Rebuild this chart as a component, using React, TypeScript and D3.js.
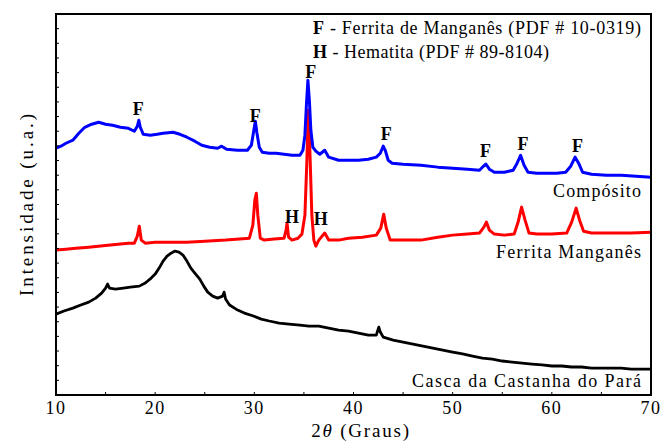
import React from 'react';
import * as d3 from 'd3';

// 2theta (deg) / intensity (a.u.)
const compositeData: [number, number][] = [
    [10.0, 1684], [10.5, 1698], [11.0, 1718], [11.7, 1739], [12.3, 1786], [12.9, 1827], [13.6, 1848],
    [14.3, 1861], [15.0, 1848], [15.7, 1841], [16.5, 1827], [17.3, 1820], [17.9, 1800], [18.2, 1834],
    [18.35, 1875], [18.5, 1827], [18.8, 1779], [19.5, 1773], [20.2, 1779], [20.8, 1786], [21.8, 1793],
    [22.5, 1779], [23.2, 1759], [24.0, 1732], [24.7, 1704], [25.5, 1691], [26.3, 1684], [26.7, 1698],
    [27.2, 1677], [28.3, 1670], [29.3, 1670], [29.7, 1704], [29.95, 1807], [30.1, 1868], [30.25, 1793],
    [30.5, 1691], [30.8, 1657], [31.5, 1650], [32.2, 1650], [33.0, 1643], [33.8, 1636], [34.6, 1636],
    [34.9, 1670], [35.1, 1773], [35.25, 1977], [35.4, 2148], [35.55, 2011], [35.7, 1807], [35.9, 1691],
    [36.2, 1664], [36.6, 1643], [37.1, 1670], [37.5, 1623], [38.5, 1602], [39.5, 1602], [40.5, 1602],
    [41.5, 1609], [42.3, 1623], [42.7, 1650], [43.0, 1698], [43.2, 1670], [43.5, 1602], [43.9, 1582],
    [45.0, 1575], [46.8, 1568], [48.5, 1555], [50.0, 1548], [51.5, 1541], [52.7, 1534], [53.1, 1561],
    [53.35, 1575], [53.7, 1541], [54.2, 1520], [55.2, 1520], [56.1, 1534], [56.5, 1582], [56.85, 1636],
    [57.2, 1568], [57.6, 1520], [58.5, 1514], [59.5, 1514], [60.5, 1514], [61.4, 1520], [61.9, 1561],
    [62.35, 1623], [62.7, 1582], [63.1, 1520], [64.0, 1507], [65.5, 1500], [67.0, 1500], [68.5, 1493],
    [70.0, 1486],
];

const ferriteData: [number, number][] = [
    [10.0, 989], [11.0, 995], [12.0, 1002], [13.3, 1009], [14.5, 1016], [15.5, 1023], [16.5, 1030],
    [17.3, 1036], [17.9, 1036], [18.2, 1084], [18.4, 1152], [18.6, 1057], [19.0, 1036], [20.0, 1043],
    [21.5, 1043], [23.2, 1043], [25.0, 1050], [27.1, 1057], [28.5, 1064], [29.5, 1070], [29.85, 1159],
    [30.05, 1330], [30.2, 1377], [30.35, 1227], [30.6, 1070], [31.0, 1057], [32.0, 1064], [33.0, 1070],
    [33.2, 1125], [33.3, 1173], [33.45, 1077], [33.8, 1057], [34.4, 1070], [34.8, 1098], [35.1, 1227],
    [35.3, 1602], [35.45, 1943], [35.6, 1670], [35.8, 1227], [36.0, 1057], [36.2, 1016], [36.5, 1057],
    [37.1, 1105], [37.5, 1057], [38.5, 1057], [39.5, 1070], [40.9, 1077], [42.3, 1091], [42.75, 1139],
    [43.05, 1234], [43.3, 1139], [43.7, 1057], [45.0, 1057], [46.8, 1057], [48.5, 1077], [50.0, 1091],
    [51.5, 1098], [52.7, 1105], [53.15, 1145], [53.4, 1180], [53.7, 1125], [54.2, 1098], [55.2, 1091],
    [56.2, 1098], [56.6, 1180], [56.95, 1282], [57.3, 1193], [57.7, 1105], [58.5, 1098], [60.0, 1098],
    [61.5, 1105], [62.0, 1180], [62.45, 1275], [62.8, 1193], [63.2, 1118], [64.0, 1105], [66.5, 1105],
    [68.0, 1105], [70.0, 1111],
];

const shellData: [number, number][] = [
    [10.0, 552], [10.8, 573], [11.7, 593], [12.5, 614], [13.3, 634], [14.0, 661], [14.6, 695],
    [15.0, 730], [15.2, 757], [15.4, 730], [16.0, 723], [16.8, 730], [17.5, 736], [18.4, 743],
    [19.0, 764], [19.6, 798], [20.0, 825], [20.4, 866], [20.8, 914], [21.2, 948], [21.6, 968],
    [22.0, 982], [22.4, 975], [22.8, 955], [23.2, 914], [23.6, 866], [24.0, 832], [24.5, 791],
    [24.9, 743], [25.3, 702], [25.8, 675], [26.3, 661], [26.8, 675], [26.95, 702], [27.1, 655],
    [27.5, 614], [28.2, 584], [29.0, 559], [29.9, 539], [30.7, 518], [31.5, 505], [32.5, 491],
    [33.5, 484], [34.6, 477], [35.5, 470], [36.5, 470], [37.5, 457], [38.5, 443], [39.5, 436],
    [40.5, 423], [41.5, 409], [42.3, 409], [42.55, 463], [42.7, 430], [43.0, 395], [44.0, 375],
    [45.0, 361], [46.0, 348], [47.0, 334], [48.0, 320], [49.0, 307], [50.0, 293], [51.0, 280],
    [52.0, 266], [53.0, 252], [54.0, 245], [55.0, 232], [56.0, 225], [57.0, 218], [58.0, 211],
    [59.0, 205], [60.0, 198], [61.0, 198], [62.0, 191], [63.0, 191], [64.0, 184], [65.0, 184],
    [66.0, 184], [67.0, 184], [68.0, 177], [69.0, 177], [70.0, 177],
];

const xTickValues = [10, 20, 30, 40, 50, 60, 70];
const xMinorTicks = [15, 25, 35, 45, 55, 65];

// phase markers: [label, 2theta, intensity at label baseline]
const peakLabels: [string, number, number][] = [
    ['F', 18.3, 1909], ['F', 30.1, 1862], ['F', 35.7, 2162], ['F', 43.3, 1739], ['F', 53.3, 1623],
    ['F', 57.1, 1671], ['F', 62.6, 1657], ['H', 33.8, 1173], ['H', 36.7, 1159],
];

const seriesLabels = ['Compósito', 'Ferrita Manganês', 'Casca da Castanha do Pará'];

const width = 660;
const height = 441;
const margin = { left: 56, right: 9, top: 14, bottom: 46 };
const serif = "'Liberation Serif', 'DejaVu Serif', serif";

export default function App() {
    const x = d3.scaleLinear([10, 70], [margin.left, width - margin.right]);
    const y = d3.scaleLinear([0, 2600], [height - margin.bottom, margin.top]);

    const line = d3
        .line<[number, number]>()
        .x((d) => x(d[0]))
        .y((d) => y(d[1]));

    const yTicks = d3.range(100, 2600, 100);
    const x0 = margin.left;
    const x1 = width - margin.right;
    const y0 = height - margin.bottom;
    const y1 = margin.top;

    return (
        <svg
            width={width}
            height={height}
            style={{ position: 'absolute', left: 0, top: 0, background: '#fff', fontFamily: serif }}
        >
            <path d={line(shellData) ?? ''} fill="none" stroke="#000" strokeWidth={2.8} strokeLinejoin="round" />
            <path d={line(ferriteData) ?? ''} fill="none" stroke="#ff0000" strokeWidth={3} strokeLinejoin="round" />
            <path d={line(compositeData) ?? ''} fill="none" stroke="#0000ff" strokeWidth={3} strokeLinejoin="round" />

            {/* ticks */}
            {yTicks.map((t) => (
                <line key={'y' + t} x1={x0} x2={x0 + 3} y1={y(t)} y2={y(t)} stroke="#000" strokeWidth={1} />
            ))}
            {[...xTickValues, ...xMinorTicks].map((t) => (
                <line key={'x' + t} x1={x(t)} x2={x(t)} y1={y0} y2={y0 - 3} stroke="#000" strokeWidth={1} />
            ))}
            <rect x={x0} y={y1} width={x1 - x0} height={y0 - y1} fill="none" stroke="#000" strokeWidth={2} />

            {xTickValues.map((t) => (
                <text key={'xl' + t} x={x(t)} y={y0 + 19} textAnchor="middle" fontSize={18} letterSpacing={1.5}>
                    {t}
                </text>
            ))}
            <text x={361} y={437} textAnchor="middle" fontSize={19} letterSpacing={1.8}>
                2<tspan fontStyle="italic">θ</tspan> (Graus)
            </text>
            <text transform="translate(33,205) rotate(-90)" textAnchor="middle" fontSize={19} textLength={182} lengthAdjust="spacing">
                Intensidade (u.a.)
            </text>

            {/* legend */}
            <text x={313} y={34} fontSize={18} textLength={328} lengthAdjust="spacing">
                <tspan fontWeight="bold">F</tspan> - Ferrita de Manganês (PDF # 10-0319)
            </text>
            <text x={313} y={58} fontSize={18} textLength={236} lengthAdjust="spacing">
                <tspan fontWeight="bold">H</tspan> - Hematita (PDF # 89-8104)
            </text>

            {peakLabels.map(([lab, tt, v], i) => (
                <text key={'p' + i} x={x(tt)} y={y(v)} textAnchor="middle" fontSize={18} fontWeight="bold">
                    {lab}
                </text>
            ))}

            <text x={553} y={197} fontSize={18} textLength={88} lengthAdjust="spacing">
                {seriesLabels[0]}
            </text>
            <text x={496} y={258} fontSize={18} textLength={145} lengthAdjust="spacing">
                {seriesLabels[1]}
            </text>
            <text x={412} y={387} fontSize={18} textLength={229} lengthAdjust="spacing">
                {seriesLabels[2]}
            </text>
        </svg>
    );
}
